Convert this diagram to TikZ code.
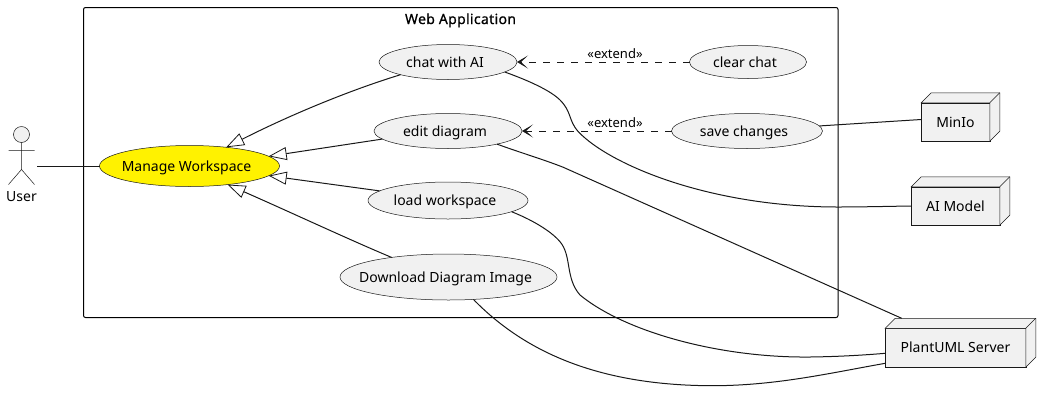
\documentclass[tikz,border=0pt]{standalone}
\usepackage{fontspec}
\setmainfont{Noto Sans}
\newfontfamily\titlefont{Noto Sans}[FakeBold=0.7,LetterSpace=2.4]
\usetikzlibrary{arrows.meta,shapes.geometric}
\definecolor{fillgray}{HTML}{F1F1F1}
\definecolor{ink}{HTML}{181818}
\newcommand{\uctext}[1]{\makebox[0pt][c]{\kern-6pt #1}}
\tikzset{
  uc/.style={ellipse,draw=ink,line width=0.5pt,fill=fillgray,inner sep=0pt,outer sep=0pt,
    font=\fontsize{14}{16}\selectfont,text height=10pt,text depth=0pt,text=black},
  dev/.style={rectangle,draw=ink,line width=0.5pt,fill=fillgray,inner sep=0pt,outer sep=0pt,
    font=\fontsize{14}{16}\selectfont,text height=10pt,text depth=0pt,text=black},
  conn/.style={draw=ink,line width=1pt},
  gen/.style={conn,-{Triangle[open,length=18pt,width=13pt,line width=0.8pt]}},
  ext/.style={conn,dash pattern=on 7pt off 7pt,-{Stealth[length=11pt,width=13pt,inset=7pt,line width=0.9pt]}},
  lab/.style={font=\fontsize{13}{15}\selectfont,text=black,inner sep=0pt},
}
\newcommand{\devicebox}[1]{%
  \draw[draw=ink,line width=0.5pt,fill=fillgray]
    (#1.north west) -- ([shift={(10pt,10pt)}]#1.north west) -- ([shift={(10pt,10pt)}]#1.north east)
    -- ([shift={(10pt,10pt)}]#1.south east) -- (#1.south east) -- (#1.north east) -- cycle;
  \draw[draw=ink,line width=0.5pt] (#1.north east) -- ([shift={(10pt,10pt)}]#1.north east);
}
\begin{document}
\begin{tikzpicture}[x=1pt,y=-1pt]
\useasboundingbox (0,0) rectangle (1051,405);
% package
\node[draw=black,line width=1pt,rounded corners=2pt,minimum width=754.5pt,minimum height=310pt,inner sep=0pt,outer sep=0pt,anchor=north west] (pkg) at (83.5,7.5) {};
\node[font=\fontsize{14}{16}\titlefont,text=black,inner sep=0pt,text height=10pt,text depth=0pt] (title) at (460.5,19) {Web Application};
% actor
\node[circle,draw=ink,line width=0.5pt,fill=fillgray,minimum size=16pt,inner sep=0pt,outer sep=0pt] (head) at (21.5,134.5) {};
\coordinate (hip) at (21.5,169.5);
\coordinate (armL) at (8.5,150.5);
\coordinate (armR) at (34.5,150.5);
\coordinate (legL) at (8.5,184.5);
\coordinate (legR) at (34.5,184.5);
\draw[draw=ink,line width=0.5pt] (head.south) -- (hip) (armL) -- (armR) (legL) -- (hip) -- (legR);
\node[font=\fontsize{14}{16}\selectfont,text=black,inner sep=0pt,text height=10pt,text depth=0pt] (user) at (21.5,196) {User};
\coordinate (userport) at (37,166);
% use cases
\node[uc,fill=yellow,minimum width=180pt,minimum height=41pt] (m) at (189.5,166) {\uctext{Manage Workspace}};
\node[uc,minimum width=138pt,minimum height=35pt] (chat) at (448,62) {\uctext{chat with AI}};
\node[uc,minimum width=148pt,minimum height=35pt] (edit) at (448,131) {\uctext{edit diagram}};
\node[uc,minimum width=160pt,minimum height=37pt] (load) at (448,200.5) {\uctext{load workspace}};
\node[uc,minimum width=217pt,minimum height=46pt] (dl) at (448.5,277) {\uctext{Download Diagram Image}};
\node[uc,minimum width=117pt,minimum height=33pt] (clear) at (748,62) {\uctext{clear chat}};
\node[uc,minimum width=151pt,minimum height=35pt] (save) at (747,131) {\uctext{save changes}};
% devices
\node[dev,minimum width=68.5pt,minimum height=38.5pt] (minio) at (955.5,122) {MinIo};
\node[dev,minimum width=88.5pt,minimum height=38.5pt] (ai) at (955.5,206) {AI Model};
\node[dev,minimum width=140.5pt,minimum height=39pt] (plant) at (955.5,347.8) {PlantUML Server};
\devicebox{minio}
\devicebox{ai}
\devicebox{plant}
% connectors
\draw[conn] (userport) -- (m.west);
\draw[gen] (chat.195.7) .. controls (360,87) and (300,110) .. (m.27);
\draw[gen] (edit.187.5) -- (m.7.5);
\draw[gen] (load.172) -- (m.-7);
\draw[gen] (dl.161.4) .. controls (350,240) and (290,212) .. (m.-26);
\draw[ext] (clear.west) -- (chat.east);
\draw[ext] (save.west) -- (edit.east);
\node[lab] (e1) at (615,53.5) {«extend»};
\node[lab] (e2) at (615,123) {«extend»};
\draw[conn] (save.4) -- (minio.west |- 0,119.5);
\draw[conn] (chat.-10) .. controls (530,81) and (551,91) .. (560,100)
  .. controls (572,112) and (568,120) .. (578.3,131.7)
  .. controls (610,165) and (710,207) .. (838,207)
  .. controls (862,207) and (890,206.3) .. (ai.west);
\draw[conn] (edit.-15.5) .. controls (520,152.5) and (545,160) .. (563.3,167.3) -- ([shift={(16.4pt,10pt)}]plant.north west);
\draw[conn] (load.-10) .. controls (530,219) and (550,230) .. (560,241.7)
  .. controls (572,256) and (565,278) .. (580,295)
  .. controls (625,332) and (720,358) .. (810,357)
  .. controls (840,356.6) and (865,355) .. ([yshift=-5.5pt]plant.west);
\draw[conn] (dl.-42) .. controls (520,347) and (590,385) .. (710,385.7)
  .. controls (775,386) and (830,373) .. ([yshift=-15.5pt]plant.west);
\end{tikzpicture}
\end{document}
